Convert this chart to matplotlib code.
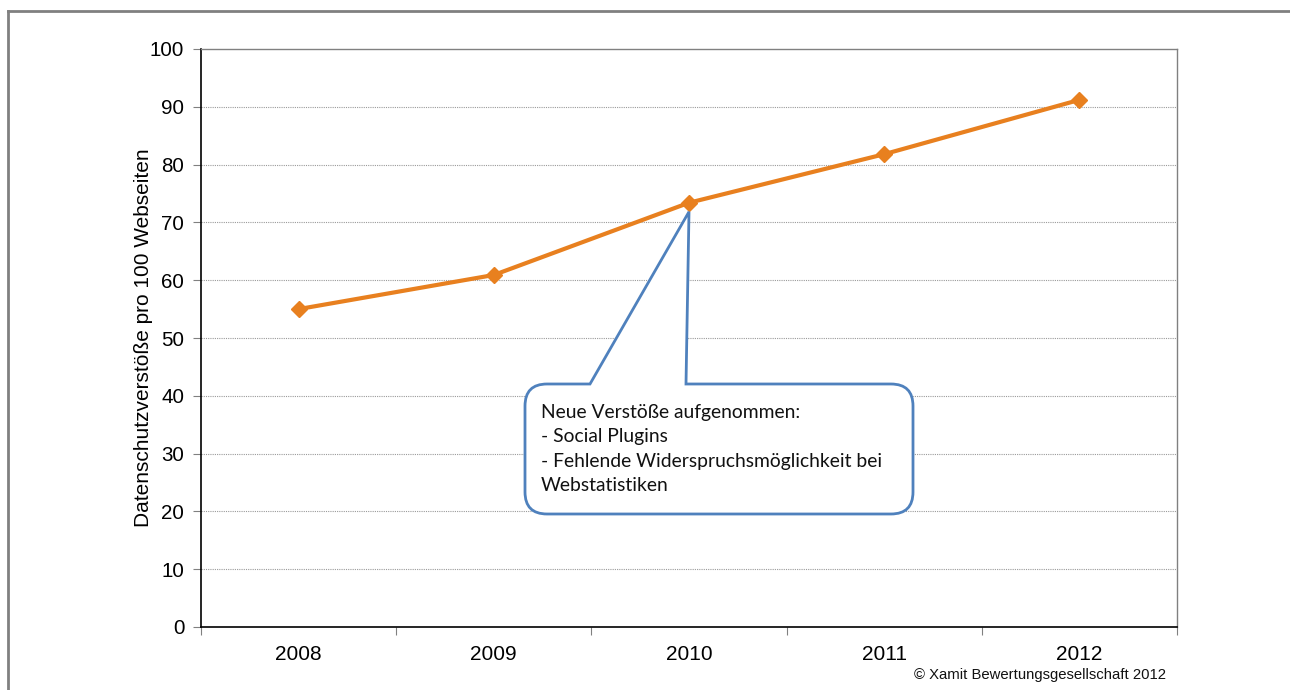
import matplotlib
matplotlib.use("Agg")
import matplotlib.pyplot as plt
from matplotlib.path import Path
from matplotlib.patches import PathPatch
from matplotlib.lines import Line2D
from matplotlib.transforms import Affine2D

years = ["2008", "2009", "2010", "2011", "2012"]
values = [55.0, 60.9, 73.4, 81.8, 91.2]
y_ticks = [0, 10, 20, 30, 40, 50, 60, 70, 80, 90, 100]
y_label = "Datenschutzverstöße pro 100 Webseiten"
callout_text = ("Neue Verstöße aufgenommen:\n- Social Plugins\n"
                "- Fehlende Widerspruchsmöglichkeit bei\nWebstatistiken")
copyright_text = "© Xamit Bewertungsgesellschaft 2012"

W, H = 1290, 690
fig = plt.figure(figsize=(W / 100, H / 100), dpi=100)
fig.patch.set_facecolor("white")

# outer frame (gray)
fig.add_artist(Line2D([8 / W, 1.0], [1 - 11 / H, 1 - 11 / H], color="#808080", lw=2.0,
                      transform=fig.transFigure))
fig.add_artist(Line2D([8 / W, 8 / W], [1 - 11 / H, 0.0], color="#808080", lw=2.0,
                      transform=fig.transFigure))

ax = fig.add_axes([201 / W, (H - 627) / H, (1177 - 201) / W, (627 - 49) / H])
ax.set_xlim(0, len(years))
ax.set_ylim(0, 100)

font = "Liberation Sans"
ax.set_yticks(y_ticks)
ax.set_yticklabels([str(t) for t in y_ticks], fontsize=14.8, family=font)
ax.set_xticks(range(len(years) + 1))
ax.set_xticklabels([])
ax.set_xticks([i + 0.5 for i in range(len(years))], minor=True)
ax.set_xticklabels(years, minor=True, fontsize=15, family=font)
ax.tick_params(axis="x", which="major", length=6, color="#808080", direction="out")
ax.tick_params(axis="x", which="minor", length=0, pad=13)
ax.tick_params(axis="y", length=6, color="#808080", direction="out", pad=6)

for t in y_ticks[1:-1]:
    ax.axhline(t, color="#9a9a9a", lw=0.8, ls=(0, (1, 1)), zorder=1)

ax.spines["left"].set_color("black")
ax.spines["bottom"].set_color("black")
ax.spines["left"].set_linewidth(1.2)
ax.spines["bottom"].set_linewidth(1.2)
ax.spines["top"].set_color("#808080")
ax.spines["right"].set_color("#808080")
ax.spines["top"].set_linewidth(1.0)
ax.spines["right"].set_linewidth(1.0)

xs = [i + 0.5 for i in range(len(years))]
ax.plot(xs, values, color="#E8801F", lw=3.0, marker="D", markersize=8.5,
        markerfacecolor="#E8801F", markeredgecolor="#E8801F", zorder=5,
        solid_capstyle="round")

ax.set_ylabel(y_label, fontsize=15, family=font, labelpad=-2)

# callout box (pixel coordinates, y downward), tip tied to the 2010 point
fig.canvas.draw()
tip_disp = ax.transData.transform((xs[2], values[2]))
tip = (tip_disp[0], H - tip_disp[1] + 9)
x0, x1, y0, y1, r = 525, 913, 384, 514, 22
wl, wr = 590, 686
verts = [
    (wl, y0), (x0 + r, y0), (x0, y0), (x0, y0 + r),
    (x0, y1 - r), (x0, y1), (x0 + r, y1),
    (x1 - r, y1), (x1, y1), (x1, y1 - r),
    (x1, y0 + r), (x1, y0), (x1 - r, y0),
    (wr, y0), tip, (wl, y0),
]
codes = [Path.MOVETO, Path.LINETO, Path.CURVE3, Path.CURVE3,
         Path.LINETO, Path.CURVE3, Path.CURVE3,
         Path.LINETO, Path.CURVE3, Path.CURVE3,
         Path.LINETO, Path.CURVE3, Path.CURVE3,
         Path.LINETO, Path.LINETO, Path.CLOSEPOLY]
pix = Affine2D().scale(1, -1).translate(0, H)
patch = PathPatch(Path(verts, codes), facecolor="white", edgecolor="#4F81BD",
                  lw=2.0, transform=pix, zorder=6)
fig.add_artist(patch)

fig.text(541 / W, 1 - 404 / H, callout_text, fontsize=13.9, family="Lato",
         va="top", ha="left", linespacing=1.52, color="#111111", zorder=7)

fig.text(1166 / W, 1 - 679 / H, copyright_text, fontsize=10.7, family=font,
         ha="right", va="baseline", color="#111111")

fig.savefig("out.png", dpi=100)
